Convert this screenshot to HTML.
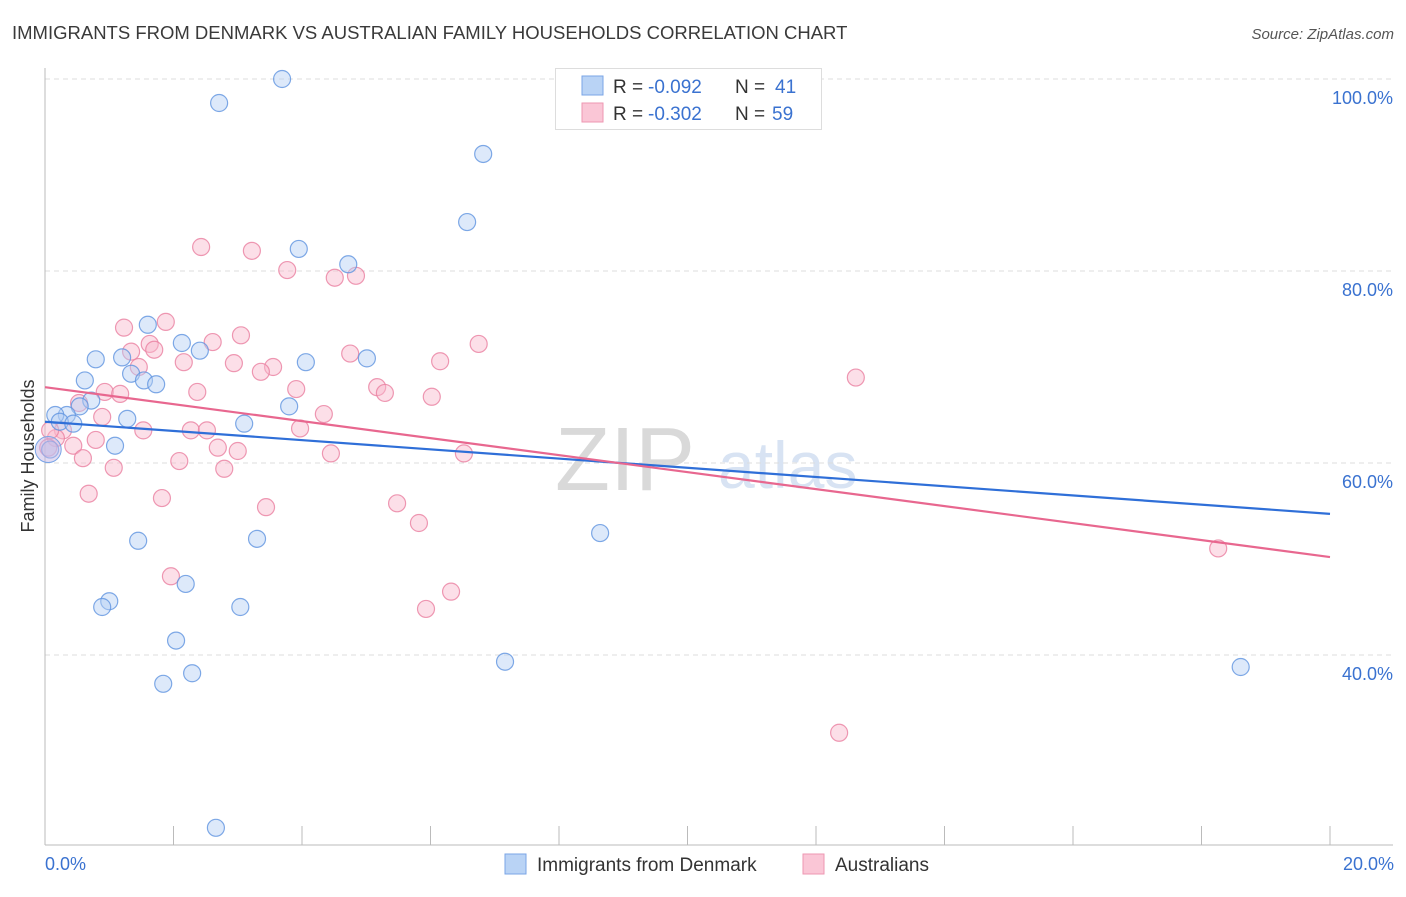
<!DOCTYPE html>
<html><head><meta charset="utf-8"><style>
body{margin:0;background:#fff;font-family:"Liberation Sans",sans-serif;}
svg text{font-family:"Liberation Sans",sans-serif;}
</style></head><body>
<svg id="chart" width="1406" height="892">
<text x="12" y="39" font-size="18.5" fill="#3a3a3a">IMMIGRANTS FROM DENMARK VS AUSTRALIAN FAMILY HOUSEHOLDS CORRELATION CHART</text>
<text x="1394" y="39" font-size="15" fill="#555" font-style="italic" text-anchor="end">Source: ZipAtlas.com</text>
<text x="0" y="0" transform="translate(34,456) rotate(-90)" font-size="18" fill="#333" text-anchor="middle">Family Households</text>
<text x="555" y="490" font-size="90" fill="#d0d0d0" font-family="Liberation Serif" opacity="0.8">ZIP</text>
<text x="718" y="488" font-size="66" fill="#c8d8ee" opacity="0.7">atlas</text>
<g id="grid"></g><g id="marks"></g>
<g>
<rect x="555.5" y="68.5" width="266" height="61" fill="#fff" stroke="#ddd"/>
<rect x="582" y="76" width="21" height="19" fill="#b9d3f5" stroke="#7aa4e6"/>
<rect x="582" y="103" width="21" height="19" fill="#fac6d6" stroke="#ee97b2"/>
<text x="613" y="93" font-size="19" fill="#333">R =</text>
<text x="648" y="93" font-size="19" fill="#3a72d0">-0.092</text>
<text x="735" y="93" font-size="19" fill="#333">N =</text>
<text x="775" y="93" font-size="19" fill="#3a72d0">41</text>
<text x="613" y="120" font-size="19" fill="#333">R =</text>
<text x="648" y="120" font-size="19" fill="#3a72d0">-0.302</text>
<text x="735" y="120" font-size="19" fill="#333">N =</text>
<text x="772" y="120" font-size="19" fill="#3a72d0">59</text>
</g>
<rect x="505" y="854" width="21" height="20" fill="#b9d3f5" stroke="#7aa4e6"/>
<text x="537" y="871" font-size="19" fill="#333">Immigrants from Denmark</text>
<rect x="803" y="854" width="21" height="20" fill="#fac6d6" stroke="#ee97b2"/>
<text x="835" y="871" font-size="19" fill="#333">Australians</text>
<text x="45" y="870" font-size="18" fill="#3a72d0">0.0%</text>
<text x="1394" y="870" font-size="18" fill="#3a72d0" text-anchor="end">20.0%</text>
</svg>
<script>
const yTicks=[100,80,60,40];
const xTicks=[0,2,4,6,8,10,12,14,16,18,20];
const blueX=[3.69,2.71,6.82,6.57,3.95,4.72,1.60,2.13,2.41,0.79,1.20,4.06,5.01,1.34,1.54,1.73,0.62,0.72,0.54,0.34,0.16,0.23,0.44,1.28,3.80,3.10,1.09,0.08,8.64,1.45,3.30,2.19,1.00,0.89,3.04,2.04,7.16,2.29,1.84,18.61,2.66];
const blueY=[100,97.5,92.19,85.1,82.3,80.7,74.4,72.5,71.7,70.8,71.0,70.5,70.9,69.3,68.6,68.2,68.6,66.5,65.9,65.0,65.0,64.3,64.1,64.6,65.9,64.1,61.8,61.4,52.7,51.9,52.1,47.4,45.6,45.0,45.0,41.5,39.3,38.1,37.0,38.75,22.0];
const pinkX=[2.43,3.22,3.77,4.51,4.84,1.88,1.23,3.05,1.63,1.34,1.70,2.61,6.75,4.75,2.16,2.94,3.55,3.36,6.15,1.46,0.93,1.17,2.37,3.91,5.17,5.29,6.02,0.53,0.89,4.34,1.53,2.27,2.52,3.97,0.28,0.17,0.79,0.44,2.69,3.00,4.45,6.52,0.59,2.09,1.07,2.79,0.68,1.82,3.44,5.48,5.82,12.62,18.26,1.96,6.32,5.93,12.36,0.08,0.05];
const pinkY=[82.5,82.1,80.1,79.3,79.5,74.7,74.1,73.3,72.4,71.6,71.8,72.6,72.4,71.4,70.5,70.4,70.0,69.5,70.6,70.0,67.4,67.2,67.4,67.7,67.9,67.3,66.9,66.25,64.8,65.1,63.4,63.4,63.4,63.6,63.4,62.6,62.4,61.8,61.6,61.25,61.0,61.0,60.5,60.2,59.5,59.4,56.8,56.35,55.4,55.8,53.75,68.9,51.1,48.2,46.6,44.8,31.9,63.4,61.6];
const blueTrend=[64.3,54.7];
const pinkTrend=[67.9,50.2];
const NS='http://www.w3.org/2000/svg';
const xs=v=>45+v*64.25, ys=v=>79+(100-v)*9.6;
function mk(t,a,p){const e=document.createElementNS(NS,t);for(const k in a)e.setAttribute(k,a[k]);p.appendChild(e);return e;}
const grid=document.getElementById('grid'),marks=document.getElementById('marks');
yTicks.forEach(t=>{
 const l=mk('line',{x1:45,x2:1393,y1:ys(t),y2:ys(t),stroke:'#ddd','stroke-dasharray':'5,4'},grid);
 
 
 const tx=mk('text',{x:1393,y:ys(t)+25,'font-size':18,fill:'#3a72d0','text-anchor':'end'},grid);
 tx.textContent=t.toFixed(1)+'%';
 
 
});
const ax=mk('line',{x1:45,x2:45,y1:68,y2:845,stroke:'#bbb'},grid);


const bx=mk('line',{x1:45,x2:1393,y1:845,y2:845,stroke:'#bbb'},grid);


xTicks.forEach(t=>{
 const l=mk('line',{x1:xs(t),x2:xs(t),y1:826,y2:845,stroke:'#bbb'},grid);
 
 
});
function pts(X,Y,fill,stroke,name){
 X.forEach((x,i)=>{
  const c=mk('circle',{cx:xs(x),cy:ys(Y[i]),r:8.5,fill:fill,'fill-opacity':0.45,stroke:stroke,'stroke-width':1.2,'stroke-opacity':0.8},marks);
  
  
 });
}
pts(pinkX,pinkY,'#f9b8cc','#ea7fa0','australians-point');
pts(blueX,blueY,'#b3cff4','#5f93e0','denmark-point');
const big1=mk('circle',{cx:xs(0.05),cy:ys(61.4),r:13,fill:'#c6b8e6','fill-opacity':0.5,stroke:'#7aa4e6'},marks);


const t1=mk('line',{x1:xs(0),y1:ys(blueTrend[0]),x2:xs(20),y2:ys(blueTrend[1]),stroke:'#2f6fd8','stroke-width':2.2},marks);


const t2=mk('line',{x1:xs(0),y1:ys(pinkTrend[0]),x2:xs(20),y2:ys(pinkTrend[1]),stroke:'#e8678f','stroke-width':2.2},marks);


</script>
</body></html>
